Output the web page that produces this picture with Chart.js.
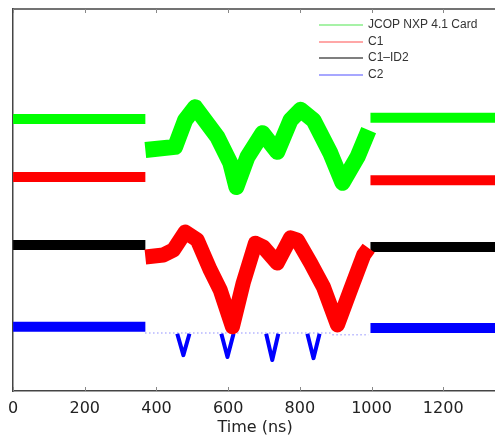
<!DOCTYPE html>
<html>
<head>
<meta charset="utf-8">
<script src="https://cdn.jsdelivr.net/npm/chart.js@4/dist/chart.umd.min.js"></script>
<style>
  html, body { margin: 0; padding: 0; background: #fff; overflow: hidden; }
  #wrap { width: 500px; height: 437px; }
</style>
</head>
<body>
<div id="wrap"><canvas id="chart"></canvas></div>
<script>
// tick labels on the time axis (ns)
const xTicks = [0, 200, 400, 600, 800, 1000, 1200];

// legend
const seriesNames = ['JCOP NXP 4.1 Card', 'C1', 'C1\u2013ID2', 'C2'];
const seriesColors = ['#00ff00', '#ff0000', '#000000', '#0000ff'];
const legendColors = ['#8aee8a', '#ff8a8a', '#555555', '#8a8aff'];

// quiet levels before and after the burst (arbitrary offset units)
const flatTime = [0, 369, 683, 997, 1350];
const greenFlat = [7.12, 7.12, null, 7.15, 7.15];
const redFlat = [5.60, 5.60, null, 5.52, 5.52];
const blackFlat = [3.82, 3.82, null, 3.77, 3.77];
const blueFlat = [1.68, 1.68, null, 1.65, 1.65];

// green burst
const greenBurstTime = [369, 452, 480, 508, 570, 606, 623, 654, 696, 737, 774, 802, 838, 885, 919, 961, 992];
const greenBurst = [6.31, 6.39, 7.09, 7.43, 6.65, 5.97, 5.34, 6.13, 6.75, 6.26, 7.09, 7.36, 7.09, 6.23, 5.45, 6.13, 6.83];

// red burst (on the C1-ID2 level)
const redBurstTime = [369, 419, 447, 480, 514, 550, 578, 612, 642, 676, 698, 737, 774, 793, 830, 866, 905, 941, 978, 992];
const redBurst = [3.51, 3.56, 3.69, 4.16, 3.95, 3.17, 2.64, 1.68, 2.83, 3.87, 3.77, 3.35, 4.01, 3.95, 3.35, 2.72, 1.73, 2.64, 3.56, 3.74];

// blue dips
const blueDipTime = [458, 475, 492, 530, 581, 598, 615, 660, 706, 723, 740, 780, 821, 838, 855];
const blueDip = [1.50, 0.94, 1.50, null, 1.50, 0.89, 1.50, null, 1.50, 0.81, 1.50, null, 1.50, 0.86, 1.50];
const blueLowTime = [369, 886, 891, 992];
const blueLow = [1.52, 1.52, 1.47, 1.47];

const pts = (ts, vs) => ts.map((t, i) => ({ x: t, y: vs[i] }));

function line(data, color, width, extra) {
  return Object.assign({
    data: data,
    borderColor: color,
    borderWidth: width,
    pointRadius: 0,
    tension: 0,
    fill: false,
    borderJoinStyle: 'round'
  }, extra || {});
}

const framePlugin = {
  id: 'frame',
  afterDraw(chart) {
    const { ctx, chartArea: a, scales: { x } } = chart;
    ctx.save();
    ctx.strokeStyle = '#444';
    ctx.lineWidth = 1.5;
    ctx.beginPath();
    ctx.moveTo(a.left, a.top);
    ctx.lineTo(a.right, a.top);
    ctx.stroke();

    ctx.strokeStyle = '#888';
    ctx.lineWidth = 1;
    x.ticks.forEach(t => {
      const px = Math.round(x.getPixelForValue(t.value)) + 0.5;
      ctx.beginPath();
      ctx.moveTo(px, a.bottom);
      ctx.lineTo(px, a.bottom - 4);
      ctx.moveTo(px, a.top);
      ctx.lineTo(px, a.top + 4);
      ctx.stroke();
    });

    // legend inside the plot, top right
    const lx = a.right - 178;
    ctx.font = '12px "Liberation Sans", Arial, sans-serif';
    ctx.textBaseline = 'middle';
    ctx.fillStyle = '#333';
    seriesNames.forEach((name, i) => {
      const ly = Math.round(a.top + 16 + i * 16.7);
      ctx.strokeStyle = legendColors[i];
      ctx.lineWidth = 1.5;
      ctx.beginPath();
      ctx.moveTo(lx, ly);
      ctx.lineTo(lx + 44, ly);
      ctx.stroke();
      ctx.fillText(name, lx + 49, ly);
    });
    ctx.restore();
  }
};

new Chart(document.getElementById('chart').getContext('2d'), {
  type: 'line',
  data: {
    datasets: [
      line(pts(flatTime, greenFlat), seriesColors[0], 10),
      line(pts(greenBurstTime, greenBurst), seriesColors[0], 16),
      line(pts(flatTime, redFlat), seriesColors[1], 10),
      line(pts(redBurstTime, redBurst), seriesColors[1], 15),
      line(pts(flatTime, blackFlat), seriesColors[2], 10),
      line(pts(flatTime, blueFlat), seriesColors[3], 10),
      line(pts(blueDipTime, blueDip), seriesColors[3], 4),
      line(pts(blueLowTime, blueLow), 'rgba(0,0,255,0.45)', 1.5, { borderDash: [1, 3] })
    ]
  },
  options: {
    responsive: true,
    maintainAspectRatio: false,
    animation: false,
    layout: { padding: { left: 12, top: 9, right: 3, bottom: 0 } },
    plugins: {
      legend: { display: false },
      tooltip: { enabled: false }
    },
    scales: {
      x: {
        type: 'linear',
        min: 0,
        max: 1350,
        afterBuildTicks: s => { s.ticks = xTicks.map(v => ({ value: v })); },
        afterFit: s => { s.height = 46; },
        grid: { display: false, drawTicks: false },
        border: { display: true, color: '#444', width: 1.5 },
        ticks: {
          padding: 8,
          color: '#222',
          callback: v => String(v),
          font: { family: '"DejaVu Sans", sans-serif', size: 16 }
        },
        title: {
          display: true,
          text: 'Time (ns)',
          color: '#222',
          padding: { top: 0, bottom: 0 },
          font: { family: '"DejaVu Sans", sans-serif', size: 16 }
        }
      },
      y: {
        min: 0,
        max: 10,
        grid: { display: false, drawTicks: false },
        border: { display: true, color: '#444', width: 1.5 },
        ticks: { display: false }
      }
    }
  },
  plugins: [framePlugin]
});
</script>
</body>
</html>
